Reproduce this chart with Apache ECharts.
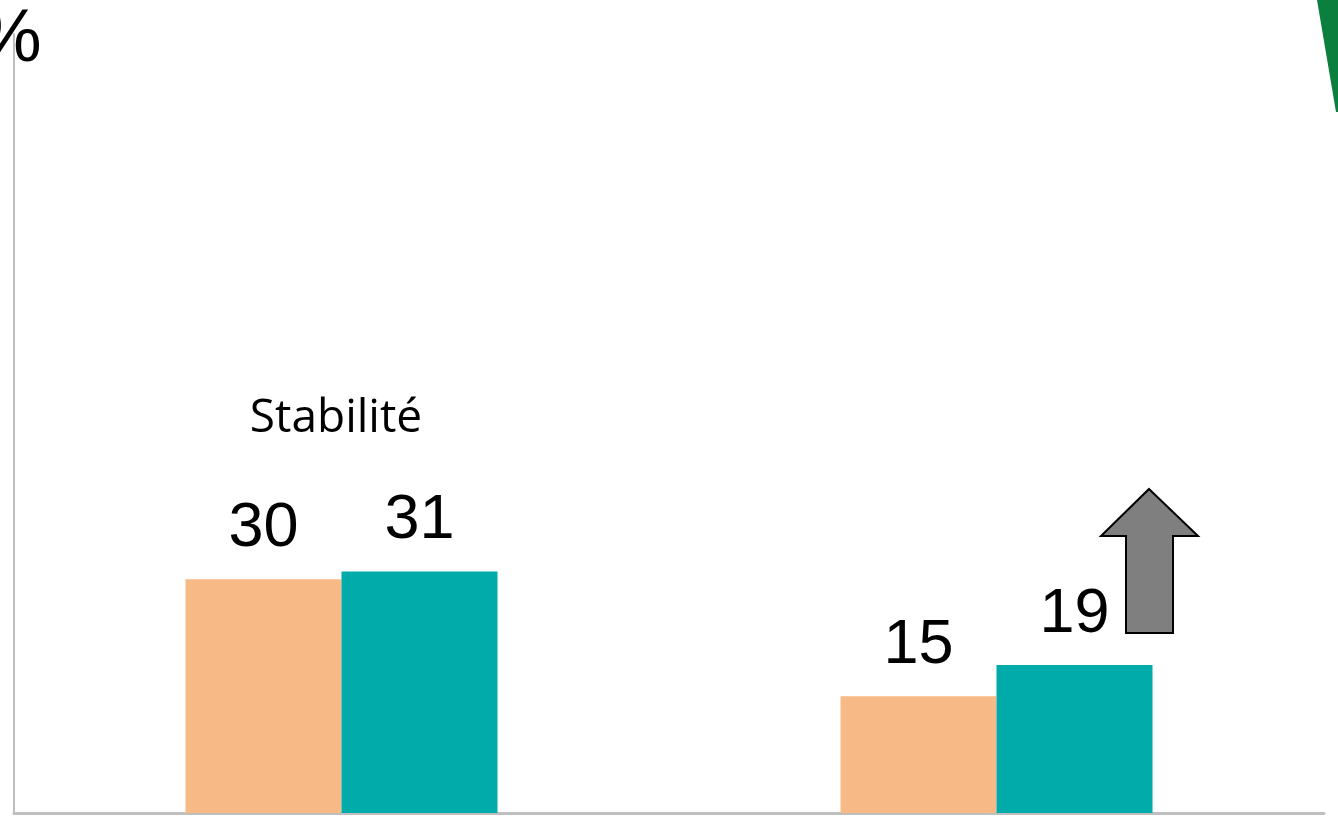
<!DOCTYPE html>
<html>
<head>
<meta charset="utf-8">
<script src="https://cdn.jsdelivr.net/npm/echarts@6/dist/echarts.min.js"></script>
<style>
  html, body { margin: 0; padding: 0; background: #fff; }
  #main { width: 1338px; height: 816px; }
</style>
</head>
<body>
<div id="main"></div>
<script>
// donnees du graphique
var categories = ['Stabilité', 'Hausse'];
var serieA = [30, 15];   // orange
var serieB = [31, 19];   // turquoise
var yMax = 100;

var myChart = echarts.init(document.getElementById('main'));

var labelStyle = {
  show: true,
  position: 'top',
  distance: 19,
  fontFamily: 'Liberation Sans, Arial, sans-serif',
  fontSize: 63,
  color: '#000'
};

var option = {
  animation: false,
  backgroundColor: '#fff',
  grid: { left: 14, right: 14, top: 34, bottom: 3 },
  xAxis: {
    type: 'category',
    data: categories,
    axisLine: { show: true, lineStyle: { color: '#bfbfbf', width: 3 } },
    axisTick: { show: false },
    axisLabel: { show: false }
  },
  yAxis: {
    type: 'value',
    min: 0,
    max: yMax,
    axisLine: { show: true, lineStyle: { color: '#bfbfbf', width: 2 } },
    axisTick: { show: false },
    axisLabel: { show: false },
    splitLine: { show: false }
  },
  series: [
    {
      type: 'bar',
      data: serieA,
      barWidth: 156,
      barGap: '0%',
      itemStyle: { color: '#F7B985' },
      label: labelStyle
    },
    {
      type: 'bar',
      data: serieB,
      barWidth: 156,
      itemStyle: { color: '#00ABA9' },
      label: labelStyle
    }
  ],
  graphic: [
    {
      type: 'text',
      left: -25,
      top: 3,
      style: {
        text: '%',
        fontFamily: 'Liberation Sans, Arial, sans-serif',
        fontSize: 75,
        fill: '#000'
      }
    },
    {
      type: 'text',
      x: 336,
      y: 419,
      style: {
        text: 'Stabilité',
        fontFamily: 'Open Sans, Noto Sans, sans-serif',
        fontSize: 46,
        fill: '#000',
        align: 'center',
        verticalAlign: 'middle'
      }
    },
    {
      // fleche grise
      type: 'polygon',
      shape: {
        points: [[1149, 489], [1198, 536], [1173, 536], [1173, 633], [1126, 633], [1126, 536], [1101, 536]]
      },
      style: { fill: '#7f7f7f', stroke: '#000', lineWidth: 2 }
    },
    {
      // forme verte en haut a droite
      type: 'polygon',
      shape: {
        points: [[1317, 0], [1338, 0], [1338, 112], [1336, 112]]
      },
      style: { fill: '#0B7F3E' }
    }
  ]
};

myChart.setOption(option);
</script>
</body>
</html>
